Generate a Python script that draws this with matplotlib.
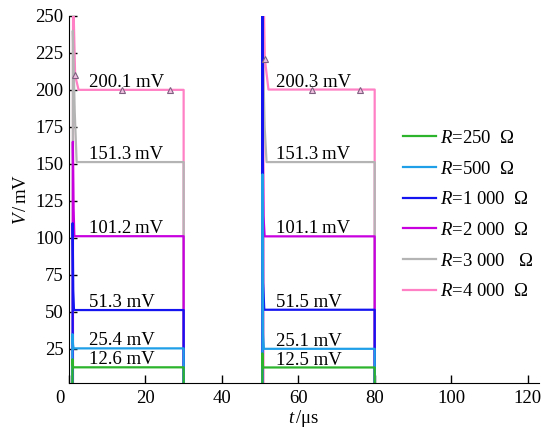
import matplotlib
matplotlib.use("Agg")
import matplotlib.pyplot as plt
import matplotlib.transforms as mtransforms

plt.rcParams["font.family"] = ["Liberation Serif", "DejaVu Serif"]
plt.rcParams["mathtext.fontset"] = "custom"
plt.rcParams["mathtext.rm"] = "Liberation Serif"
plt.rcParams["mathtext.it"] = "Liberation Serif:italic"

# ── Data ───────────────────────────────────────────────────
labels = ["$R$=250  Ω", "$R$=500  Ω", "$R$=1 000  Ω",
          "$R$=2 000  Ω", "$R$=3 000   Ω", "$R$=4 000  Ω"]
colors = ["#2cb42c", "#1e9fe8", "#1414f0", "#c800e0", "#b4b4b4", "#ff80c4"]

# traces: time (µs) and voltage (mV) for each resistance
t_250 = [0, 0.9, 0.9, 1.0, 1.1, 30, 30, 50.6, 50.6, 50.7, 50.8, 80, 80, 123]
v_250 = [0, 0, 18, 14, 12.6, 12.6, 0, 0, 22, 15, 12.5, 12.5, 0, 0]
t_500 = [0, 0.9, 0.9, 1.05, 1.2, 30, 30, 50.65, 50.65, 50.8, 51.0, 80, 80, 123]
v_500 = [0, 0, 35, 28, 25.4, 25.4, 0, 0, 143, 35, 25.1, 25.1, 0, 0]
t_1000 = [0, 0.95, 0.95, 1.1, 1.3, 30, 30, 50.6, 50.6, 50.8, 51.1, 80, 80, 123]
v_1000 = [0, 0, 110, 65, 51.3, 51.3, 0, 0, 270, 70, 51.5, 51.5, 0, 0]
t_2000 = [0, 1.0, 1.0, 1.2, 1.4, 30, 30, 50.7, 50.7, 50.9, 51.2, 80, 80, 123]
v_2000 = [0, 0, 165, 120, 101.2, 101.2, 0, 0, 160, 115, 101.1, 101.1, 0, 0]
t_3000 = [0, 1.0, 1.0, 1.5, 2.0, 30, 30, 50.7, 50.7, 51.2, 51.7, 80, 80, 123]
v_3000 = [0, 0, 240, 185, 151.3, 151.3, 0, 0, 230, 175, 151.3, 151.3, 0, 0]
t_4000 = [0, 1.05, 1.05, 1.6, 2.5, 30, 30, 50.9, 50.9, 51.25, 52.2, 80, 80, 123]
v_4000 = [0, 0, 270, 210, 200.1, 200.1, 0, 0, 270, 221, 200.3, 200.3, 0, 0]

traces_t = [t_250, t_500, t_1000, t_2000, t_3000, t_4000]
traces_v = [v_250, v_500, v_1000, v_2000, v_3000, v_4000]

# triangle markers on the R=4000 trace
mark_t = [1.6, 14.0, 26.5, 51.25, 63.7, 76.2]
mark_v = [210, 200.1, 200.1, 221, 200.3, 200.3]

# plateau annotations
pulse1_level = [200.1, 151.3, 101.2, 51.3, 25.4, 12.6]
pulse1_text = ["200.1 mV", "151.3\u2009mV", "101.2\u2009mV", "51.3 mV", "25.4 mV", "12.6 mV"]
pulse2_level = [200.3, 151.3, 101.1, 51.5, 25.1, 12.5]
pulse2_text = ["200.3 mV", "151.3\u2009mV", "101.1\u2009mV", "51.5 mV", "25.1 mV", "12.5 mV"]

x_ticks = [0, 20, 40, 60, 80, 100, 120]
y_ticks = [25, 50, 75, 100, 125, 150, 175, 200, 225, 250]

# ── Plot ───────────────────────────────────────────────────
fig = plt.figure(figsize=(5.41, 4.32), dpi=100)
ax = fig.add_axes([69 / 541, 49 / 432, 470 / 541, 367 / 432])

handles = [None] * 6
for i in reversed(range(6)):
    (ln,) = ax.plot(traces_t[i], traces_v[i], color=colors[i], lw=1.6,
                    label=labels[i])
    handles[i] = ln

ax.plot(mark_t, mark_v, ls="none", marker="^", ms=4, mfc="#f0c0e0",
        mec="#806080", mew=0.8, zorder=5)

for lvl, txt in zip(pulse1_level, pulse1_text):
    ax.text(5.3, lvl + 2.0, txt, fontsize=13.5, va="baseline", ha="left")
for lvl, txt in zip(pulse2_level, pulse2_text):
    ax.text(54.3, lvl + 2.0, txt, fontsize=13.5, va="baseline", ha="left")

ax.set_xlim(0.6, 123)
ax.set_ylim(2, 250)
ax.set_xticks(x_ticks)
ax.set_yticks(y_ticks)
ax.spines["top"].set_visible(False)
ax.spines["right"].set_visible(False)
ax.tick_params(direction="in", length=6, width=1, labelsize=13.5)
ax.tick_params(axis="x", pad=5)
ax.tick_params(axis="y", pad=4)

# the "0" label sits a little left of the axis in the original
shift = mtransforms.ScaledTranslation(-0.09, 0, fig.dpi_scale_trans)
lbl0 = ax.get_xticklabels()[0]
lbl0.set_transform(lbl0.get_transform() + shift)

ax.set_xlabel("$t\\,$/μs", fontsize=13.5, labelpad=1)
ax.set_ylabel("$V\\,$/$\\,$mV", fontsize=13.5, labelpad=4)

ax.legend(handles=handles, loc="upper left", bbox_to_anchor=(0.694, 0.71),
          frameon=False, fontsize=13.5, handlelength=1.8, handletextpad=0.2,
          labelspacing=0.72, borderaxespad=0)

fig.savefig("out.png", dpi=100)
plt.close(fig)
